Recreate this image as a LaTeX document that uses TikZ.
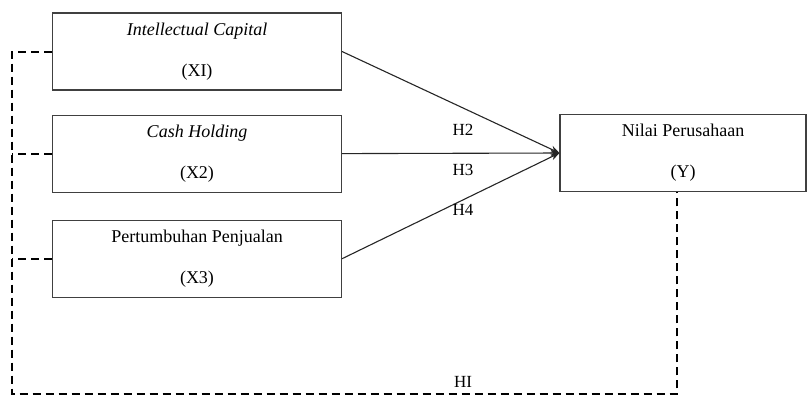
\documentclass[tikz,border=0pt]{standalone}
\usepackage{fontspec}
\setmainfont{Liberation Serif}
\usetikzlibrary{positioning,arrows.meta}
\tikzset{
  varbox/.style   ={rectangle, draw=black!75, line width=1.1pt, fill=white,
                    minimum width=289pt, minimum height=77pt, inner sep=0pt,
                    align=center, font=\fontsize{18}{21}\selectfont},
  hlabel/.style   ={font=\fontsize{17}{20}\selectfont, inner sep=0pt},
  effect/.style   ={-{Stealth[length=9pt,width=7pt]}, line width=1.1pt, draw=black!85},
  dashlink/.style ={line width=2pt, dash pattern=on 8pt off 5pt},
}
\begin{document}
\begin{tikzpicture}[x=1pt,y=-1pt]
\useasboundingbox (0,0) rectangle (808,397);
% independent variables
\node[varbox] (ic) at (197,51.5) {\textit{Intellectual Capital}\\[20pt](XI)};
\node[varbox, below=24pt of ic] (ch) {\textit{Cash Holding}\\[20pt](X2)};
\node[varbox, below=27pt of ch] (pp) {Pertumbuhan Penjualan\\[20pt](X3)};

% dependent variable
\node[varbox, minimum width=246pt] (nilai) at (683,153) {Nilai Perusahaan\\[20pt](Y)};

% hypotheses
\draw[effect] (ic.east) -- (nilai.west);
\draw[effect] (ch.east) -- (nilai.west);
\draw[effect] (pp.east) -- (nilai.west);
\node[hlabel] (h2) at (463,130) {H2};
\node[hlabel] (h3) at (463,170) {H3};
\node[hlabel] (h4) at (463,210) {H4};

% simultaneous effect
\coordinate (corner) at (12,394);
\draw[dashlink] (ic.west) -| (corner) -| ([xshift=-6pt]nilai.south);
\draw[dashlink] (ch.west) -- (ch.west -| corner);
\draw[dashlink] (pp.west) -- (pp.west -| corner);
\node[hlabel] (h1) at (463,382) {HI};
\end{tikzpicture}
\end{document}
